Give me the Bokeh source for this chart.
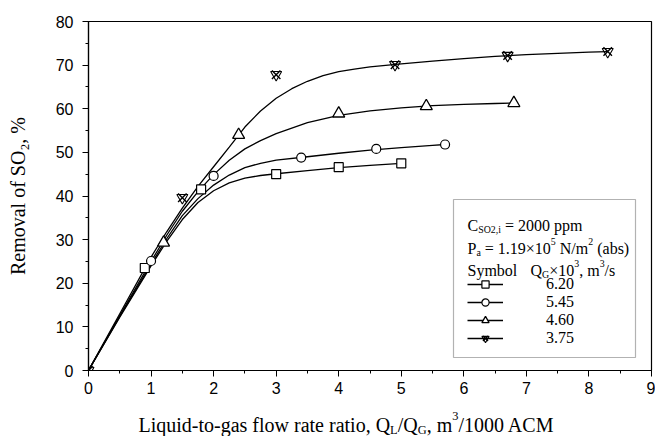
from bokeh.plotting import figure
from bokeh.layouts import column
from bokeh.models import (Range1d, SingleIntervalTicker, Label, Legend, LegendItem,
                          BoxAnnotation)
from bokeh.embed import file_html
from bokeh.resources import INLINE

# ---- measured data points (Q_G x 10^3 series) ----
sq_x = [0.9, 1.8, 3.0, 4.0, 5.0]
sq_y = [23.5, 41.5, 45.0, 46.6, 47.5]
ci_x = [1.0, 2.0, 3.4, 4.6, 5.7]
ci_y = [25.1, 44.6, 48.8, 50.8, 51.8]
tr_x = [1.2, 2.4, 4.0, 5.4, 6.8]
tr_y = [29.3, 54.0, 58.9, 60.6, 61.3]
st_x = [0.0, 1.5, 3.0, 4.9, 6.7, 8.3]
st_y = [0.0, 39.6, 67.8, 70.1, 72.2, 73.1]

# ---- fitted curves ----
sq_cx = [0, 0.5, 1.0, 1.25, 1.5, 1.75, 2.0, 2.25, 2.5, 2.75, 3.0, 3.5, 4.0, 4.5, 5.0]
sq_cy = [0, 12.2, 24.0, 29.6, 34.6, 38.5, 41.2, 43.0, 44.1, 44.7, 45.1, 45.8, 46.5, 47.0, 47.5]
ci_cx = [0, 0.5, 1.0, 1.25, 1.5, 1.75, 2.0, 2.25, 2.5, 2.75, 3.0, 3.5, 4.0, 4.5, 5.0, 5.5, 5.7]
ci_cy = [0, 12.4, 24.4, 30.2, 35.5, 39.4, 42.5, 44.8, 46.5, 47.5, 48.2, 49.0, 49.8, 50.5, 51.1, 51.6, 51.8]
tr_cx = [0, 0.5, 1.0, 1.25, 1.5, 1.75, 2.0, 2.25, 2.5, 2.75, 3.0, 3.5, 4.0, 4.5, 5.0, 5.5, 6.0, 6.5, 6.8]
tr_cy = [0, 12.6, 25.0, 31.0, 36.5, 41.0, 44.9, 48.2, 50.8, 52.7, 54.3, 56.8, 58.5, 59.5, 60.2, 60.7, 61.0, 61.2, 61.3]
st_cx = [0, 0.5, 1.0, 1.25, 1.5, 1.75, 2.0, 2.25, 2.5, 2.75, 3.0, 3.25, 3.5, 3.75, 4.0, 4.25,
         4.5, 5.0, 5.5, 6.0, 6.5, 7.0, 7.5, 8.0, 8.3]
st_cy = [0, 13.0, 26.0, 31.8, 37.2, 42.2, 46.7, 51.2, 55.8, 59.5, 62.4, 64.6, 66.3, 67.6, 68.5,
         69.1, 69.6, 70.3, 70.9, 71.5, 72.0, 72.4, 72.7, 73.0, 73.1]

series_labels = ["6.20", "5.45", "4.60", "3.75"]

SERIF = "Liberation Serif"
SANS = "Liberation Sans"

p = figure(width=655, height=406, x_range=Range1d(0, 9), y_range=Range1d(0, 80),
           output_backend="svg", toolbar_location=None,
           min_border_left=88, min_border_right=4, min_border_top=21, min_border_bottom=36)
p.grid.visible = False
p.outline_line_color = "black"
p.outline_line_width = 1.2
p.background_fill_color = "white"
p.border_fill_color = "white"

for ax in (p.xaxis[0], p.yaxis[0]):
    ax.axis_line_color = "black"
    ax.axis_line_width = 1.2
    ax.major_tick_line_color = "black"
    ax.minor_tick_line_color = "black"
    ax.major_tick_out = 6
    ax.major_tick_in = 0
    ax.minor_tick_out = 3
    ax.minor_tick_in = 0
    ax.major_label_text_font = SANS
    ax.major_label_text_font_size = "16px"
    ax.major_label_text_color = "black"

p.xaxis.ticker = SingleIntervalTicker(interval=1, num_minor_ticks=2)
p.yaxis.ticker = SingleIntervalTicker(interval=10, num_minor_ticks=2)
p.xaxis.major_label_standoff = 5
p.yaxis.major_label_standoff = 9

p.yaxis.axis_label = "Removal of SO\u2082, %"
p.yaxis.axis_label_text_font = SERIF
p.yaxis.axis_label_text_font_size = "20px"
p.yaxis.axis_label_text_font_style = "normal"
p.yaxis.axis_label_text_color = "black"
p.yaxis.axis_label_standoff = 24

LW = 1.3
c_sq = p.line(sq_cx, sq_cy, line_color="black", line_width=LW)
c_ci = p.line(ci_cx, ci_cy, line_color="black", line_width=LW)
c_tr = p.line(tr_cx, tr_cy, line_color="black", line_width=LW)
c_st = p.line(st_cx, st_cy, line_color="black", line_width=LW)

m_sq = p.scatter(sq_x, sq_y, marker="square", size=9, line_color="black", fill_color="white", line_width=1.2)
m_ci = p.scatter(ci_x, ci_y, marker="circle", size=9, line_color="black", fill_color="white", line_width=1.2)
m_tr = p.scatter(tr_x, tr_y, marker="triangle", size=12, line_color="black", fill_color="white", line_width=1.3)
m_st1 = p.scatter(st_x, st_y, marker="x", size=12, line_color="black", line_width=1.4)
m_st2 = p.scatter(st_x, st_y, marker="inverted_triangle", size=11, line_color="black",
                  fill_alpha=0, line_width=1.1)

legend = Legend(items=[
    LegendItem(label=series_labels[0], renderers=[c_sq, m_sq]),
    LegendItem(label=series_labels[1], renderers=[c_ci, m_ci]),
    LegendItem(label=series_labels[2], renderers=[c_tr, m_tr]),
    LegendItem(label=series_labels[3], renderers=[c_st, m_st1, m_st2]),
], location=(379, 23), padding=0, margin=0, spacing=0, glyph_width=36, glyph_height=18,
    label_height=18, label_standoff=43, border_line_alpha=0, background_fill_alpha=0,
    label_text_font=SERIF, label_text_font_size="16px", label_text_color="black")
p.add_layout(legend)


# legend frame (data units converted from the frame geometry)
def px2x(px):
    return (px - 88) / (563 / 9)


def py2y(py):
    return (370 - py) / (349 / 80)


p.add_layout(BoxAnnotation(left=px2x(453), right=px2x(635), top=py2y(199), bottom=py2y(357),
                           fill_alpha=0, line_color="black", line_width=1.2, level="overlay"))

# Times-compatible advance widths (per 1000 em)
W = {' ': 250, ',': 250, '-': 333, '.': 250, '/': 278, '=': 564, '\u00d7': 564, '(': 333, ')': 333,
     '%': 833, 'A': 722, 'C': 667, 'G': 722, 'L': 611, 'M': 889, 'N': 722, 'O': 722, 'P': 556,
     'Q': 722, 'S': 556, 'a': 444, 'b': 500, 'd': 500, 'e': 444, 'f': 333, 'g': 500, 'i': 278,
     'l': 278, 'm': 778, 'n': 500, 'o': 500, 'p': 500, 'q': 500, 'r': 333, 's': 389, 't': 278,
     'u': 500, 'v': 500, 'w': 722, 'y': 500}


def tw(s, fs):
    return sum(W.get(c, 500) for c in s) * fs / 1000.0


def runs_width(runs, fs):
    return sum(tw(t, fs if k == "n" else fs * 0.62) for t, k in runs)


def rich(fig, x0, y0, runs, fs):
    x = x0
    for t, k in runs:
        size = fs if k == "n" else fs * 0.62
        dy = 0 if k == "n" else (fs * 0.28 if k == "sub" else -fs * 0.42)
        lead = len(t) - len(t.lstrip(" "))
        txt = t.strip(" ")
        if txt:
            fig.add_layout(Label(x=x + tw(" " * lead, size), y=y0 + dy, x_units="canvas", y_units="canvas",
                                 text=txt, text_font=SERIF, text_font_size=f"{size:.1f}px",
                                 text_baseline="alphabetic", text_align="left", text_color="black"))
        x += tw(t, size)


# legend header texts
rich(p, 467, 225, [("C", "n"), ("SO2,i", "sub"), (" = 2000 ppm", "n")], 16)
rich(p, 467, 248, [("P", "n"), ("a", "sub"), (" = 1.19\u00d710", "n"), ("5", "sup"), (" N/m", "n"),
                   ("2", "sup"), (" (abs)", "n")], 16)
rich(p, 467, 270, [("Symbol", "n")], 16)
rich(p, 530, 270, [("Q", "n"), ("G", "sub"), ("\u00d710", "n"), ("3", "sup"), (", m", "n"),
                   ("3", "sup"), ("/s", "n")], 16)

# x-axis title strip below the plot
t = figure(width=655, height=30, x_range=Range1d(0, 1), y_range=Range1d(0, 1),
           output_backend="svg", toolbar_location=None, x_axis_type=None, y_axis_type=None,
           min_border=0, outline_line_color=None)
t.grid.visible = False
t.border_fill_color = "white"
t.background_fill_color = "white"
xt = [("Liquid-to-gas flow rate ratio, Q", "n"), ("L", "sub"), ("/Q", "n"), ("G", "sub"),
      (", m", "n"), ("3", "sup"), ("/1000 ACM", "n")]
rich(t, 346 - runs_width(xt, 20) / 2, 18, xt, 20)

layout = column(p, t, spacing=0)
open("out.html", "w").write(file_html(layout, INLINE))
